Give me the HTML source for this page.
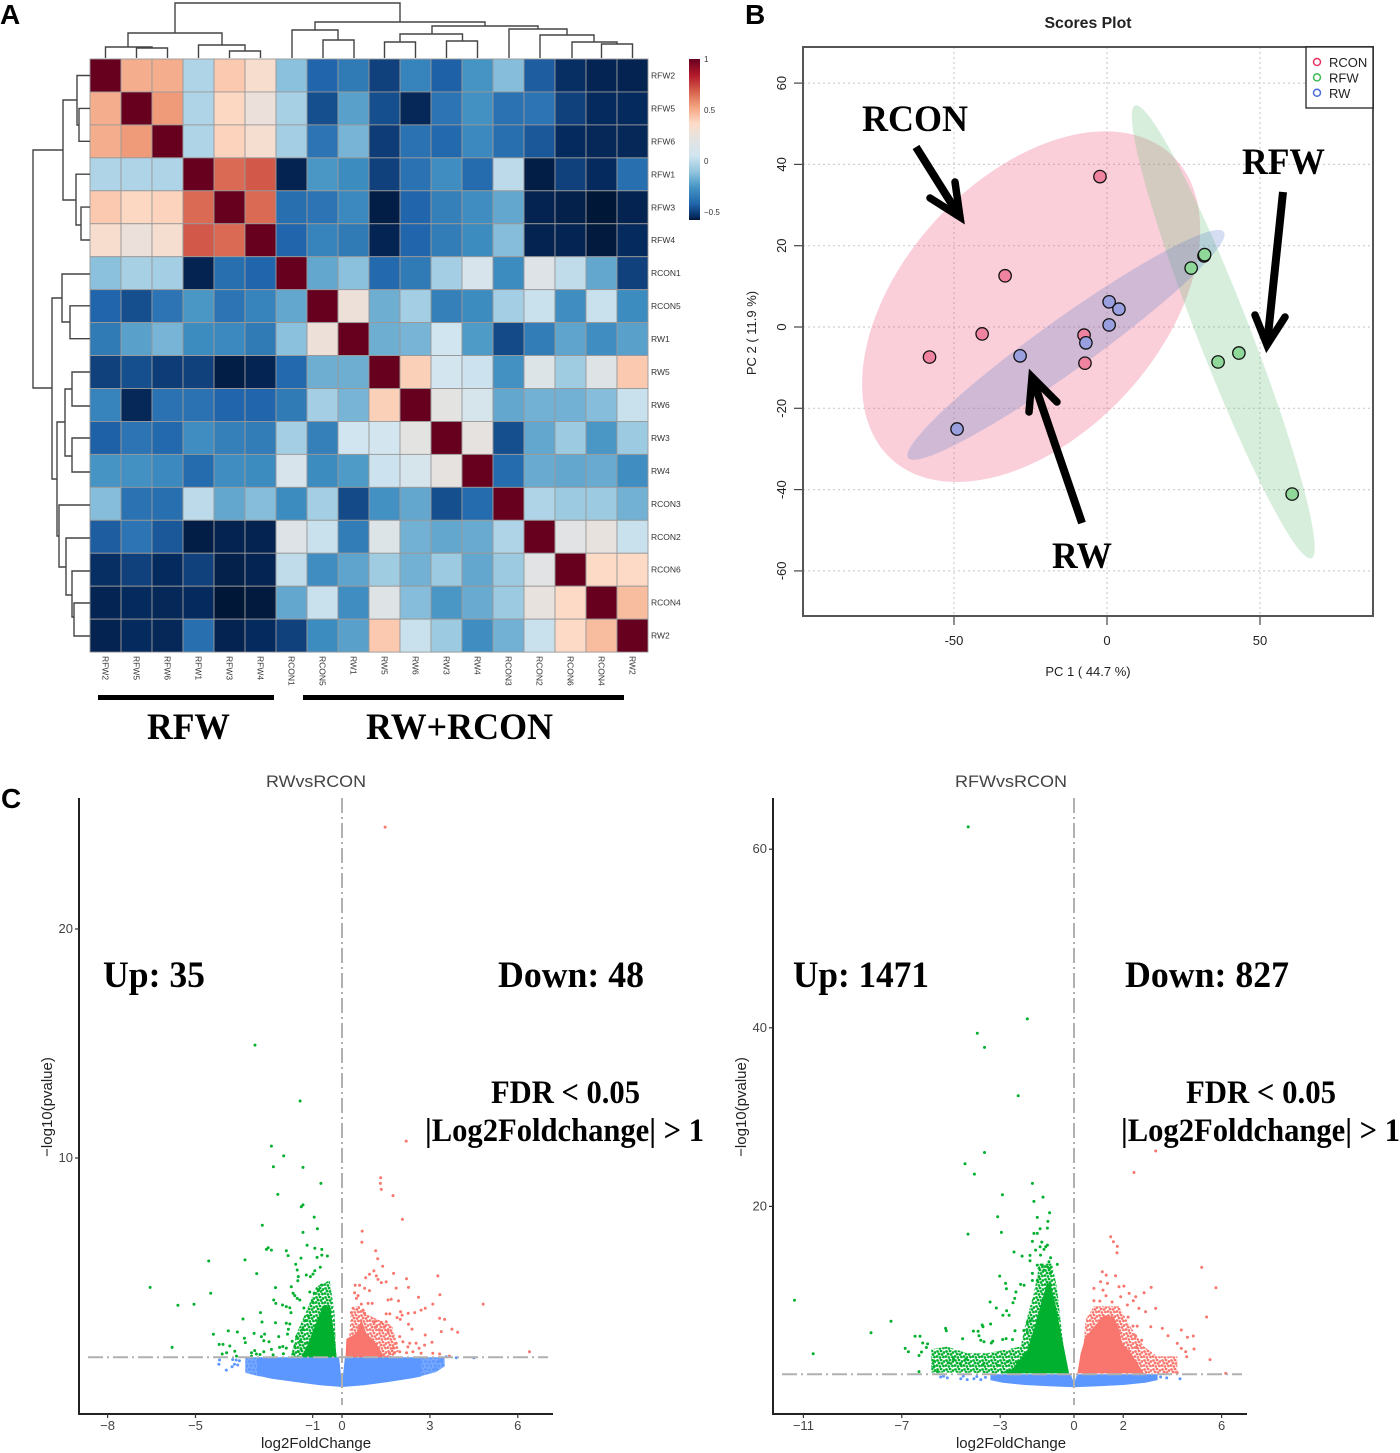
<!DOCTYPE html>
<html lang="en">
<head>
<meta charset="utf-8">
<title>Transcriptome correlation, PCA and volcano plots</title>
<style>
html,body{margin:0;padding:0;background:#fff;width:1400px;height:1453px;overflow:hidden}
svg{display:block}
text{font-family:"Liberation Sans",sans-serif}
.serif{font-family:"Liberation Serif",serif;font-weight:bold;fill:#000}
</style>
</head>
<body>
<svg id="figure" xmlns="http://www.w3.org/2000/svg" width="1400" height="1453" viewBox="0 0 1400 1453">
  <defs>
    <linearGradient id="cbar" x1="0" y1="0" x2="0" y2="1"></linearGradient>
    <pattern id="speckGreen" width="9" height="9" patternUnits="userSpaceOnUse">
      <circle cx="1.5" cy="1.5" r="1.4" fill="#00b02e"/><circle cx="5" cy="1" r="1.4" fill="#00b02e"/><circle cx="8" cy="2.5" r="1.4" fill="#00b02e"/><circle cx="3" cy="4" r="1.4" fill="#00b02e"/><circle cx="6" cy="4.5" r="1.4" fill="#00b02e"/><circle cx="1" cy="6.5" r="1.4" fill="#00b02e"/><circle cx="4" cy="7.5" r="1.4" fill="#00b02e"/><circle cx="7.5" cy="7" r="1.4" fill="#00b02e"/>
    </pattern>
    <pattern id="speckRed" width="9" height="9" patternUnits="userSpaceOnUse">
      <circle cx="1.5" cy="1.5" r="1.4" fill="#f8766d"/><circle cx="5" cy="1" r="1.4" fill="#f8766d"/><circle cx="8" cy="2.5" r="1.4" fill="#f8766d"/><circle cx="3" cy="4" r="1.4" fill="#f8766d"/><circle cx="6" cy="4.5" r="1.4" fill="#f8766d"/><circle cx="1" cy="6.5" r="1.4" fill="#f8766d"/><circle cx="4" cy="7.5" r="1.4" fill="#f8766d"/><circle cx="7.5" cy="7" r="1.4" fill="#f8766d"/>
    </pattern>
    <pattern id="speckBlue" width="8" height="8" patternUnits="userSpaceOnUse">
      <rect width="8" height="8" fill="#78a9ff"/><circle cx="1.5" cy="1.5" r="1.5" fill="#5c97ff"/><circle cx="5.5" cy="2" r="1.5" fill="#5c97ff"/><circle cx="3" cy="5.5" r="1.5" fill="#5c97ff"/><circle cx="7" cy="6" r="1.5" fill="#5c97ff"/>
    </pattern>
  </defs>

  <text x="0" y="24" font-size="28" font-weight="bold">A</text>
  <text x="745" y="24" font-size="28" font-weight="bold">B</text>
  <text x="1" y="808" font-size="28" font-weight="bold">C</text>

  <g id="panelA"></g>
  <rect x="98" y="695" width="176" height="5" fill="#000"/>
  <rect x="303" y="695" width="321" height="5" fill="#000"/>
  <text class="serif" x="147" y="739" font-size="37" textLength="83" lengthAdjust="spacingAndGlyphs">RFW</text>
  <text class="serif" x="366" y="739" font-size="37" textLength="187" lengthAdjust="spacingAndGlyphs">RW+RCON</text>

  <g id="panelB"></g>

  <g id="volcanoLeft"></g>
  <g id="volcanoRight"></g>
</svg>

<script>
/* ---------- Panel A data ---------- */
const sampleNames = ["RFW2","RFW5","RFW6","RFW1","RFW3","RFW4","RCON1","RCON5","RW1","RW5","RW6","RW3","RW4","RCON3","RCON2","RCON6","RCON4","RW2"];
const corrUpper = [
 [1,.50,.50,-.03,.42,.33,-.12,-.42,-.35,-.50,-.32,-.43,-.26,-.13,-.44,-.54,-.57,-.58],
 [1,.55,-.03,.38,.26,-.05,-.47,-.22,-.47,-.56,-.37,-.27,-.38,-.37,-.50,-.55,-.55],
 [1,-.03,.39,.32,-.06,-.37,-.16,-.51,-.38,-.41,-.30,-.39,-.45,-.55,-.56,-.56],
 [1,.66,.70,-.58,-.25,-.29,-.50,-.38,-.28,-.40,0,-.60,-.50,-.55,-.39],
 [1,.66,-.39,-.37,-.30,-.60,-.42,-.33,-.28,-.20,-.58,-.59,-.63,-.58],
 [1,-.42,-.32,-.35,-.57,-.42,-.34,-.29,-.13,-.58,-.57,-.62,-.55],
 [1,-.20,-.12,-.41,-.35,-.06,.10,-.29,.15,.01,-.20,-.50],
 [1,.27,-.18,-.06,-.33,-.29,-.06,.03,-.28,.03,-.29],
 [1,-.18,-.16,.05,-.24,-.48,-.34,-.21,-.28,-.22],
 [1,.40,.07,.04,-.27,.14,-.07,.16,.42],
 [1,.20,.09,-.20,-.17,-.17,-.13,.03],
 [1,.22,-.47,-.20,-.08,-.25,-.08],
 [1,-.40,-.19,-.20,-.19,-.28],
 [1,-.03,-.08,-.08,-.17],
 [1,.18,.24,.03],
 [1,.37,.37],
 [1,.46],
 [1]
];
const colorbarTicks = [1,0.5,0,-0.5];
const colorValues = [1,.842,.684,.526,.368,.24,.052,-.106,-.264,-.42,-.55,-.64];
const colorHex = ["#67001f","#b2182b","#d6604d","#f4a582","#fddbc7","#e8e2de","#d1e5f0","#92c5de","#4393c3","#2166ac","#052a5e","#011533"];

/* ---------- Panel B data ---------- */
const pcaXTicks = [-50,0,50];
const pcaYTicks = [60,40,20,0,-20,-40,-60];
const groupNames = ["RCON","RFW","RW"];
const rconScores = [[-2.3,37],[-33.3,12.6],[-40.8,-1.7],[-58,-7.4],[-7.5,-2],[-7.2,-8.9]];
const rfwScores = [[27.5,14.5],[31.7,17.5],[31.9,17.8],[36.3,-8.6],[43.1,-6.4],[60.5,-41.1]];
const rwScores = [[.7,6.2],[3.9,4.4],[.7,.5],[-6.9,-3.9],[-28.4,-7.1],[-49,-25.1]];
const rconEllipse = [-24.8,5,45.8,37.4,30.9,-21.5];
const rfwEllipse = [38,-1.2,28.8,-55.7,8,2.3];
const rwEllipse = [-13.4,-4.4,51.6,27.8,4.9,-5.2];

/* ---------- Panel C data: RW vs RCON ---------- */
const leftXTicks = [-8,-5,-1,0,3,6];
const leftYTicks = [10,20];
const leftThreshold = 1.3;
const leftBlueSolid = [[-2.9,1.3],[-2.9,.5],[-2.4,.36],[-1.5,.2],[-.75,.08],[0,0],[.75,.08],[1.5,.2],[2.4,.38],[2.7,.46],[2.7,1.3],[.1,1.3],[.02,.35],[-.02,.35],[-.1,1.3]];
const leftBlueSparse = [[-3.3,1.3],[-3.3,.62],[-2.8,.46],[-2.8,1.3]];
const leftBlueSparse2 = [[2.6,1.3],[2.6,.44],[3.2,.65],[3.5,.9],[3.5,1.3]];
const leftGreenSolid = [[-1.4,1.3],[-1.15,1.9],[-.95,2.6],[-.72,3.3],[-.62,3.6],[-.42,3.55],[-.32,2.8],[-.25,2.1],[-.18,1.3]];
const leftGreenSparse = [[-1.75,1.3],[-1.55,2.34],[-1.2,3.36],[-.88,4.38],[-.42,4.66],[-.25,3.2],[-.2,1.3]];
const leftRedSolid = [[.12,1.3],[.15,2.1],[.49,2.35],[.66,2.93],[.83,2.35],[1.17,1.9],[1.45,1.3]];
const leftRedSparse = [[.2,1.3],[.3,3.2],[.55,3.6],[.8,3.2],[1.3,2.9],[1.7,2.7],[1.95,1.6],[1.7,1.3]];
const leftGreenPoints = [[-2.97,14.93],[-1.43,12.49],[-2.41,10.52],[-1.99,10.09],[-2.34,9.62],[-1.33,9.59],[-.72,8.89],[-2.19,8.41],[-1.33,7.95],[-1.39,7.87],[-.95,7.42],[-2.72,7.06],[-1.33,6.75],[-.84,6.91],[-1.19,6.19],[-2.52,6.08],[-2.58,6.01],[-2.41,5.98],[-1.9,5.95],[-1.84,5.74],[-.93,6.06],[-.69,6.01],[-.69,5.76],[-.85,5.66],[-.5,5.72],[-1.4,5.63],[-4.55,5.5],[-3.31,5.55],[-1.58,5.36],[-1.53,5.11],[-.74,5.23],[-2.91,4.95],[-1.22,4.89],[-1.08,4.82],[-.93,5.08],[-.99,4.93],[-1.49,4.82],[-1.51,4.64],[-6.55,4.35],[-2.27,4.34],[-1.73,4.38],[-4.48,4.09],[-5.6,3.57],[-5.05,3.61],[-5.8,1.73],[-4.39,2.3],[-3.88,2.45],[-3.57,2.4],[-3.38,2.97],[-2.78,3.25],[-2.73,2.84],[-2.27,2.81],[-2.33,3.8],[-2.26,3.65],[-2.03,3.58],[-1.9,3.51],[-1.78,3.46],[-1.74,3.25],[-1.67,4.09],[-1.61,3.99],[-1.53,3.87],[-1.44,3.8],[-1.9,2.78],[-1.78,2.75],[-1.83,2.52],[-1.86,2.31],[-3,2.34],[-2.64,2.31],[-2.75,2.2],[-2.67,2.02],[-2.49,1.98],[-2.16,2.2],[-2.13,1.73],[-3.33,2.13],[-3.3,1.94],[-4.19,1.86],[-4.06,1.86],[-3.83,1.79],[-3.94,1.5],[-3.66,1.56],[-4.09,1.44],[-3.6,1.35],[-3.09,1.5],[-2.98,1.59],[-2.92,1.44],[-2.67,1.54],[-2.41,1.64],[-3.09,1.35],[-2.02,1.77],[-1.9,1.7],[-2,1.45],[-1.61,1.77],[-1.67,1.45],[-1.5,1.55],[-1.22,1.91],[-1.7,2.0],[-1.55,2.2],[-1.42,2.0],[-1.35,2.5],[-1.25,2.9],[-1.15,3.1],[-1.4,1.65],[-2.35,1.4],[-2.8,1.42],[-1.3,3.45],[-1.0,3.7],[-.95,4.1],[-.8,4.25],[-1.1,4.15],[-.7,4.45]];
const leftRedPoints = [[1.47,24.45],[2.19,10.74],[1.32,9.14],[1.31,8.89],[1.34,8.63],[1.74,8.36],[2.06,7.32],[.69,6.81],[.68,6.32],[1.15,5.95],[1.22,5.6],[1.39,5.27],[1.76,4.96],[1.09,5.07],[.94,4.92],[.81,4.77],[1.17,4.85],[1.23,4.7],[1.34,4.56],[1.51,4.59],[2.2,4.73],[3.27,4.85],[3.34,4.03],[4.82,3.62],[6.4,1.54],[2.27,4.35],[1.85,4.32],[2.61,3.92],[.45,4.44],[.6,4.44],[.43,4.12],[.55,3.99],[.49,3.87],[.77,4.31],[.94,4.21],[1.57,3.8],[1.68,3.83],[1.93,3.76],[.66,3.62],[.89,3.65],[1.03,3.65],[.38,3.44],[.32,3.25],[.72,3.36],[.77,3.22],[3.1,3.62],[2.84,3.44],[2.7,3.36],[2.48,3.25],[2.26,3.22],[2,3.29],[2.05,3.14],[1.51,3.19],[1.63,3.19],[1.88,3.03],[1.99,2.95],[2.27,2.74],[2.39,2.53],[3.33,3],[3.5,2.95],[3.39,2.42],[3.75,2.53],[3.95,2.39],[2.84,2.27],[3.07,1.95],[2.82,1.83],[2.53,1.91],[2.63,1.69],[1.11,2.85],[1.34,2.82],[1.51,2.85],[1.17,2.63],[1.28,2.48],[1.45,2.63],[1.57,2.42],[1.97,2.2],[2.08,1.98],[1.85,1.91],[1.74,1.69],[2.25,1.75],[2.31,1.91],[2.42,1.54],[2.2,1.5],[1.97,1.54],[2.7,1.47],[3.1,1.47],[3.33,1.44],[3.67,1.35],[1.62,1.47],[1.79,1.5]];
const leftBluePoints = [[-4.2,.99],[-4.18,1.18],[-3.95,.74],[-3.75,.88],[-3.67,.99],[-3.56,.96],[-3.73,1.2],[-3.61,1.18],[-3.5,1.15],[3.9,1.28],[4.5,1.28],[3.56,1.32],[3.45,.96],[3.2,.82],[3.3,1.12],[3.4,1.2]];

/* ---------- Panel C data: RFW vs RCON ---------- */
const rightXTicks = [-11,-7,-3,0,2,6];
const rightYTicks = [20,40,60];
const rightThreshold = 1.2;
const rightBlueSolid = [[-3.4,1.2],[-3.4,.55],[-2.9,.25],[-2,0],[-1,-.15],[0,-.26],[1,-.15],[2,0],[2.9,.25],[3.4,.55],[3.4,1.2],[.13,1.2],[0,.2],[-.13,1.2]];
const rightGreenSolid = [[-.2,1.3],[-.54,6],[-.75,9],[-.95,11.4],[-1.1,11.4],[-1.35,9],[-1.6,6.5],[-1.9,3.9],[-2.5,1.8],[-3,1.3]];
const rightGreenSparse = [[-5.8,1.4],[-5.8,4],[-5.15,4.3],[-4.34,3.55],[-3.52,3.55],[-2.17,4.3],[-1.9,7.65],[-1.63,10.3],[-1.4,13.6],[-.9,13.6],[-.7,11],[-.3,1.3]];
const rightRedSolid = [[.14,1.3],[.27,3.5],[.47,5.4],[.81,6.5],[1.22,7.8],[1.63,7.65],[1.83,6.2],[1.96,4.7],[2.3,3.6],[2.85,1.3]];
const rightRedSparse = [[.3,1.3],[.47,7.3],[.81,8.8],[1.83,8.8],[2.3,6.5],[2.85,4.3],[3.39,3.2],[4.2,3.2],[4.2,1.3]];
const rightGreenPoints = [[-4.3,62.5],[-1.9,41],[-3.93,39.4],[-3.64,37.8],[-2.27,32.4],[-3.64,26.04],[-4.43,24.78],[-4.05,23.62],[-1.69,22.57],[-2.91,21.31],[-1.26,21.04],[-1.63,20.56],[-.99,19.29],[-3.1,18.84],[-1.49,18.77],[-1.06,18.32],[-1.38,17.5],[-1.08,17.57],[-2.95,17.09],[-4.31,16.9],[-1.63,16.98],[-1.49,16.98],[-1.69,16.08],[-1.31,16],[-1.08,15.67],[-1.15,15.49],[-1.22,15.19],[-1.38,15.49],[-1.56,15.11],[-2.44,14.89],[-2.11,14.44],[-1.79,14.51],[-1.79,13.92],[-1.36,14.55],[-.95,14.25],[-1.02,13.81],[-.68,13.51],[-1.49,13.43],[-1.29,13.43],[-1.08,13.25],[-1.42,13.06],[-1.22,12.87],[-.98,13.06],[-.95,12.57],[-3.02,12.2],[-1.69,12.5],[-1.42,12.1],[-1.69,11.7],[-1.49,11.7],[-2.78,11.38],[-2.75,10.78],[-2.17,11.27],[-2.03,11.16],[-2.36,10.41],[-11.36,9.48],[-3.41,9.29],[-2.41,9.7],[-2.48,9.22],[-3.16,8.62],[-2.74,8.32],[-2.64,7.8],[-2.89,7.8],[-7.44,7.13],[-8.25,5.86],[-10.6,3.51],[-6.46,5.45],[-6.26,5.45],[-6.86,4.1],[-6.73,3.73],[-5.22,6.34],[-5.19,6.08],[-3.73,6.72],[-3.7,6.53],[-3.39,6.83],[-4.09,6.04],[-3.9,6.01],[-3.86,5.52],[-4.53,5.19],[-3.79,5],[-3.66,4.85],[-3.36,4.7],[-3.3,4.9],[-2.4,6.08],[-1.9,7],[-1.77,7.2],[-2.04,6.1],[-1.9,5.9],[-2.9,5.1],[-2.76,5.2],[-2.5,5.1],[-6.15,4.7],[-5.95,4.6],[-6,4.2],[-6.2,3.7],[-6.3,3.3],[-5.7,2.7],[-5.7,2.0],[-5.55,1.5],[-6.3,1.5],[-5.1,2.5],[-4.9,2.9],[-4.6,2.3],[-4.4,2.9],[-3.7,2.3],[-3.1,2.2],[-2.7,2.6],[-2.3,2.5],[-2,3.2]];
const rightRedPoints = [[3.32,26.2],[2.44,23.8],[1.49,16.6],[1.6,16.04],[1.76,15.52],[1.75,14.81],[5.19,13.17],[5.77,10.9],[5.39,7.61],[4.88,4.03],[5.53,2.84],[6.17,1.3],[1.15,12.69],[1.31,12.31],[1.69,12.24],[1.08,11.57],[1.36,11.38],[.81,10.82],[1.18,10.63],[1.83,11],[2.03,11.08],[2.24,10.26],[3.14,10.93],[2.85,10.34],[2.51,9.89],[1.9,9.89],[.81,9.44],[2.64,8.58],[2.91,8.2],[3.32,8.58],[2.17,8.96],[2.41,9.44],[2.57,6.6],[3.12,6.53],[3.59,6.34],[4.36,6.16],[4.61,5.34],[4.85,5.49],[3.82,5.52],[4.2,4.66],[4.36,4.1],[4.54,3.73],[4.58,3.17],[4.2,1.38],[1.3,10],[1.05,9.4],[1.55,9.3],[2.2,7.6],[2.4,6.6],[2.5,5.5],[2.75,5],[2.55,4.2]];
const rightBluePoints = [[-5.42,.9],[-5.15,.8],[-4.6,.7],[-4.34,.6],[-4.07,.7],[-3.79,.6],[-5.3,1],[-4.5,1],[-3.95,.95],[-3.6,.85],[3.52,.9],[3.77,.8],[4.31,.7]];

/* ---------- helpers ---------- */
const NS = "http://www.w3.org/2000/svg";
function el(parent, tag, attrs, txt){
  const e = document.createElementNS(NS, tag);
  for (const k in attrs) e.setAttribute(k, attrs[k]);
  if (txt !== undefined) e.textContent = txt;
  parent.appendChild(e);
  return e;
}
function hexRgb(h){return [1,3,5].map(i=>parseInt(h.substr(i,2),16));}
function corrColor(v){
  for (let i=0;i<colorValues.length-1;i++){
    if (v<=colorValues[i] && v>=colorValues[i+1]){
      const t=(colorValues[i]-v)/(colorValues[i]-colorValues[i+1]);
      const a=hexRgb(colorHex[i]),b=hexRgb(colorHex[i+1]);
      return "rgb("+a.map((c,j)=>Math.round(c+(b[j]-c)*t)).join(",")+")";
    }
  }
  return v>1?colorHex[0]:colorHex[colorHex.length-1];
}

/* ---------- Panel A ---------- */
(function(){
  const g = document.getElementById("panelA");
  const left=90, top=59, cw=31, ch=32.95, n=sampleNames.length;
  const cx=i=>left+cw*(i+.5), cy=i=>top+ch*(i+.5);
  const matrix=[];
  for(let r=0;r<n;r++){matrix.push([]);}
  corrUpper.forEach((row,r)=>row.forEach((v,k)=>{matrix[r][r+k]=v;matrix[r+k][r]=v;}));
  for(let r=0;r<n;r++){
    for(let c=0;c<n;c++){
      const cell=el(g,"rect",{x:left+cw*c,y:top+ch*r,width:cw,height:ch,fill:corrColor(matrix[r][c]),stroke:"#999","stroke-width":.9});
      
      
    }
  }
  sampleNames.forEach((s,i)=>{
    const rowLabel=el(g,"text",{x:651,y:cy(i)+3,"font-size":8.5,fill:"#333"},s);
    
    
    const colLabel=el(g,"text",{x:cx(i)-3,y:656,"font-size":8.5,fill:"#333",transform:"rotate(90 "+(cx(i)-3)+" 656)"},s);
    
    
  });
  // colour bar
  const grad=document.getElementById("cbar");
  const vMax=1,vMin=-.58;
  colorValues.forEach((v,i)=>{
    const off=Math.min(1,(vMax-v)/(vMax-vMin));
    el(grad,"stop",{offset:off,"stop-color":colorHex[i]});
  });
  const bar=el(g,"rect",{x:689,y:59,width:11,height:161,fill:"url(#cbar)"});
  
  
  colorbarTicks.forEach(t=>{
    const y=59+(vMax-t)/(vMax-vMin)*161;
    const lab=el(g,"text",{x:704,y:y+3,"font-size":8,fill:"#333"},t<0?"\u2212"+Math.abs(t):String(t));
    
    
  });
  // column dendrogram: horizontal at y from x1 to x2, with drops to y1 / y2
  const colTree=[[136.5,167.5,48,58,58],[105.5,152,47,58,48],[229.5,260.5,51,58,58],[198.5,245,45,58,51],[128,222,33,47,45],[175,400,3,33,22],[323,354,40,58,58],[292,338,30,58,40],[315,485,22,30,26],[384.5,415.5,42,58,58],[446.5,477.5,41,58,58],[400,462.5,34,42,41],[432,538,26,34,29],[509,567,29,58,35],[540,594,35,58,42],[572,617,42,58,44],[601.5,632.5,44,58,58]];
  colTree.forEach(b=>{
    const p=el(g,"path",{d:"M"+b[0]+" "+b[3]+"V"+b[2]+"H"+b[1]+"V"+b[4],fill:"none",stroke:"#444","stroke-width":1.4});
    
    
  });
  // row dendrogram: vertical at x from y1 to y2, with stubs to x1 / x2
  const rowTree=[[79,108.4,141.3,90,90],[77,75.5,125,90,79],[81,207.1,240,90,90],[76,174.2,225,90,81],[63,100,200,77,76],[33,150,388,63,52],[70,305.8,338.7,90,90],[62,274,322,90,70],[52,298,479,62,57],[72,372,406,90,90],[72,438,472,90,90],[65,389,456,72,72],[57,422,536,65,59],[59,505,567,90,66],[66,538,595,90,72],[72,571,617,90,74],[74,603,636,90,90]];
  rowTree.forEach(b=>{
    const p=el(g,"path",{d:"M"+b[3]+" "+b[1]+"H"+b[0]+"V"+b[2]+"H"+b[4],fill:"none",stroke:"#444","stroke-width":1.4});
    
    
  });
})();

/* ---------- Panel B ---------- */
(function(){
  const g=document.getElementById("panelB");
  const X=v=>1107+3.06*v, Y=v=>327-4.065*v;
  const L=803,R=1373,T=47,B=616;
  pcaXTicks.forEach(t=>{
    const l=el(g,"line",{x1:X(t),x2:X(t),y1:T,y2:B,stroke:"#cfcfcf","stroke-width":1.2,"stroke-dasharray":"2 3"});
    
    
    const k=el(g,"line",{x1:X(t),x2:X(t),y1:B,y2:B+9,stroke:"#444","stroke-width":1.2});
    
    
    const lab=el(g,"text",{x:X(t),y:645,"font-size":13,fill:"#222","text-anchor":"middle"},String(t));
    
    
  });
  pcaYTicks.forEach(t=>{
    const l=el(g,"line",{x1:L,x2:R,y1:Y(t),y2:Y(t),stroke:"#cfcfcf","stroke-width":1.2,"stroke-dasharray":"2 3"});
    
    
    const k=el(g,"line",{x1:L-9,x2:L,y1:Y(t),y2:Y(t),stroke:"#444","stroke-width":1.2});
    
    
    const lab=el(g,"text",{x:786,y:Y(t),"font-size":13,fill:"#222","text-anchor":"middle",transform:"rotate(-90 786 "+Y(t)+")"},String(t));
    
    
  });
  function ellipsePath(e){
    let d="";
    for(let i=0;i<=120;i++){
      const t=i/120*2*Math.PI;
      const vx=e[0]+Math.cos(t)*e[2]+Math.sin(t)*e[4];
      const vy=e[1]+Math.cos(t)*e[3]+Math.sin(t)*e[5];
      d+=(i?"L":"M")+X(vx).toFixed(1)+" "+Y(vy).toFixed(1);
    }
    return d+"Z";
  }
  const eRcon=el(g,"path",{d:ellipsePath(rconEllipse),fill:"rgba(236,78,118,.27)"});
  
  
  const eRfw=el(g,"path",{d:ellipsePath(rfwEllipse),fill:"rgba(96,188,116,.25)"});
  
  
  const eRw=el(g,"path",{d:ellipsePath(rwEllipse),fill:"rgba(82,118,198,.25)"});
  
  
  function pts(list,fill,name){
    list.forEach(p=>{
      const c=el(g,"circle",{cx:X(p[0]),cy:Y(p[1]),r:6.2,fill:fill,stroke:"#111","stroke-width":1.3});
      
      
    });
  }
  pts(rconScores,"#f083a0","rcon-point");
  pts(rfwScores,"#8fd89a","rfw-point");
  pts(rwScores,"#9a9fe0","rw-point");
  const box=el(g,"rect",{x:L,y:T,width:R-L,height:B-T,fill:"none",stroke:"#555","stroke-width":2});
  
  
  const title=el(g,"text",{x:1088,y:28,"font-size":15.5,"font-weight":"bold",fill:"#222","text-anchor":"middle",textLength:87,lengthAdjust:"spacingAndGlyphs"},"Scores Plot");
  
  
  const xt=el(g,"text",{x:1088,y:676,"font-size":13,fill:"#222","text-anchor":"middle"},"PC 1 ( 44.7 %)");
  
  
  const yt=el(g,"text",{x:756,y:333,"font-size":13,fill:"#222","text-anchor":"middle",transform:"rotate(-90 756 333)"},"PC 2 ( 11.9 %)");
  
  
  // legend
  const lb=el(g,"rect",{x:1306,y:47,width:67,height:61,fill:"#fff",stroke:"#222","stroke-width":1.3});
  
  
  const legendColors=["#e8325f","#3dba55","#4a6bd8"];
  groupNames.forEach((n,i)=>{
    const y=62+15.4*i;
    const m=el(g,"circle",{cx:1317,cy:y,r:3.5,fill:"none",stroke:legendColors[i],"stroke-width":1.5});
    
    
    const t=el(g,"text",{x:1329,y:y+5,"font-size":13,fill:"#222"},n);
    
    
  });
  // annotations
  const arrows=[["rcon",916,147,960,217,955,182,930,198],["rfw",1283,192,1267,345,1255,315,1285,317],["rw",1082,523,1032,377,1029,412,1057,402]];
  arrows.forEach(a=>{
    const s=el(g,"line",{x1:a[1],y1:a[2],x2:(a[3]+(a[1]-a[3])*.04),y2:(a[4]+(a[2]-a[4])*.04),stroke:"#000","stroke-width":8});
    
    
    const h=el(g,"path",{d:"M"+a[5]+" "+a[6]+"L"+a[3]+" "+a[4]+"L"+a[7]+" "+a[8],fill:"none",stroke:"#000","stroke-width":7.5,"stroke-linecap":"round","stroke-linejoin":"miter"});
    
    
  });
  const labels=[["RCON",862,131,106],["RFW",1242,174,83],["RW",1052,568,60]];
  labels.forEach(l=>{
    const t=el(g,"text",{class:"serif",x:l[1],y:l[2],"font-size":37,textLength:l[3],lengthAdjust:"spacingAndGlyphs"},l[0]);
    
    
  });
})();

/* ---------- Panel C ---------- */
function drawVolcano(o){
  const g=o.g, X=o.X, Y=o.Y;
  const poly=(list,fill,name)=>{
    const p=el(g,"path",{d:list.map((q,i)=>(i?"L":"M")+X(q[0]).toFixed(1)+" "+Y(q[1]).toFixed(1)).join("")+"Z",fill:fill});
    
    
  };
  const dots=(list,fill,name)=>{
    list.forEach(q=>{
      const c=el(g,"circle",{cx:X(q[0]).toFixed(1),cy:Y(q[1]).toFixed(1),r:1.5,fill:fill});
      
      
    });
  };
  o.blueSparse.forEach(s=>poly(s,"url(#speckBlue)","not-significant-sparse-region"));
  poly(o.blueSolid,"#5c97ff","not-significant-dense-region");
  poly(o.greenSparse,"url(#speckGreen)","upregulated-sparse-region");
  poly(o.greenSolid,"#00b02e","upregulated-dense-region");
  poly(o.redSparse,"url(#speckRed)","downregulated-sparse-region");
  poly(o.redSolid,"#f8766d","downregulated-dense-region");
  dots(o.bluePts,"#5c97ff","not-significant-point");
  dots(o.greenPts,"#00b02e","upregulated-point");
  dots(o.redPts,"#f8766d","downregulated-point");
  const hl=el(g,"line",{x1:o.axisX+9,x2:o.axisRight-5,y1:Y(o.threshold),y2:Y(o.threshold),stroke:"#b0b0b0","stroke-width":2,"stroke-dasharray":"15 4 2 4"});
  
  
  const vl=el(g,"line",{x1:X(0),x2:X(0),y1:798,y2:1405,stroke:"#b0b0b0","stroke-width":2,"stroke-dasharray":"15 4 2 4"});
  
  
  const ax=el(g,"path",{d:"M"+o.axisX+" 798V1414H"+o.axisRight,fill:"none",stroke:"#222","stroke-width":2});
  
  
  o.xTicks.forEach(t=>{
    const k=el(g,"line",{x1:X(t),x2:X(t),y1:1414,y2:1418,stroke:"#333","stroke-width":1.2});
    
    
    const lab=el(g,"text",{x:X(t),y:1430,"font-size":13,fill:"#444","text-anchor":"middle"},t<0?"\u2212"+Math.abs(t):String(t));
    
    
  });
  o.yTicks.forEach(t=>{
    const k=el(g,"line",{x1:o.axisX-4,x2:o.axisX,y1:Y(t),y2:Y(t),stroke:"#333","stroke-width":1.2});
    
    
    const lab=el(g,"text",{x:o.axisX-6,y:Y(t)+4,"font-size":13,fill:"#444","text-anchor":"end"},String(t));
    
    
  });
  const title=el(g,"text",{x:o.titleX,y:787,"font-size":17,fill:"#444","text-anchor":"middle",textLength:o.titleW,lengthAdjust:"spacingAndGlyphs"},o.title);
  
  
  const xt=el(g,"text",{x:o.titleX,y:1448,"font-size":15,fill:"#222","text-anchor":"middle"},"log2FoldChange");
  
  
  const ytx=o.axisX-27;
  const yt=el(g,"text",{x:ytx,y:1107,"font-size":15,fill:"#222","text-anchor":"middle",transform:"rotate(-90 "+ytx+" 1107)"},"\u2212log10(pvalue)");
  
  
  o.notes.forEach(n=>{
    const t=el(g,"text",{class:"serif",x:n[1],y:n[2],"font-size":n[3],textLength:n[4],lengthAdjust:"spacingAndGlyphs"},n[0]);
    
    
  });
}
drawVolcano({
  g:document.getElementById("volcanoLeft"),
  X:v=>342+29.3*v, Y:v=>1387-22.9*v,
  axisX:79, axisRight:553, threshold:leftThreshold,
  xTicks:leftXTicks, yTicks:leftYTicks,
  blueSolid:leftBlueSolid, blueSparse:[leftBlueSparse,leftBlueSparse2],
  greenSolid:leftGreenSolid, greenSparse:leftGreenSparse,
  redSolid:leftRedSolid, redSparse:leftRedSparse,
  greenPts:leftGreenPoints, redPts:leftRedPoints, bluePts:leftBluePoints,
  title:"RWvsRCON", titleX:316, titleW:100,
  notes:[["Up: 35",103,987,37,102,"up-count-annotation"],["Down: 48",498,987,37,146,"down-count-annotation"],["FDR < 0.05",491,1103,33,149,"fdr-threshold-annotation"],["|Log2Foldchange| > 1",425,1141,33,279,"fold-change-threshold-annotation"]]
});
drawVolcano({
  g:document.getElementById("volcanoRight"),
  X:v=>1074+24.6*v, Y:v=>1385-8.93*v,
  axisX:773, axisRight:1247, threshold:rightThreshold,
  xTicks:rightXTicks, yTicks:rightYTicks,
  blueSolid:rightBlueSolid, blueSparse:[],
  greenSolid:rightGreenSolid, greenSparse:rightGreenSparse,
  redSolid:rightRedSolid, redSparse:rightRedSparse,
  greenPts:rightGreenPoints, redPts:rightRedPoints, bluePts:rightBluePoints,
  title:"RFWvsRCON", titleX:1011, titleW:112,
  notes:[["Up: 1471",793,987,37,136,"up-count-annotation"],["Down: 827",1125,987,37,164,"down-count-annotation"],["FDR < 0.05",1186,1103,33,150,"fdr-threshold-annotation"],["|Log2Foldchange| > 1",1121,1141,33,279,"fold-change-threshold-annotation"]]
});
</script>
</body>
</html>
